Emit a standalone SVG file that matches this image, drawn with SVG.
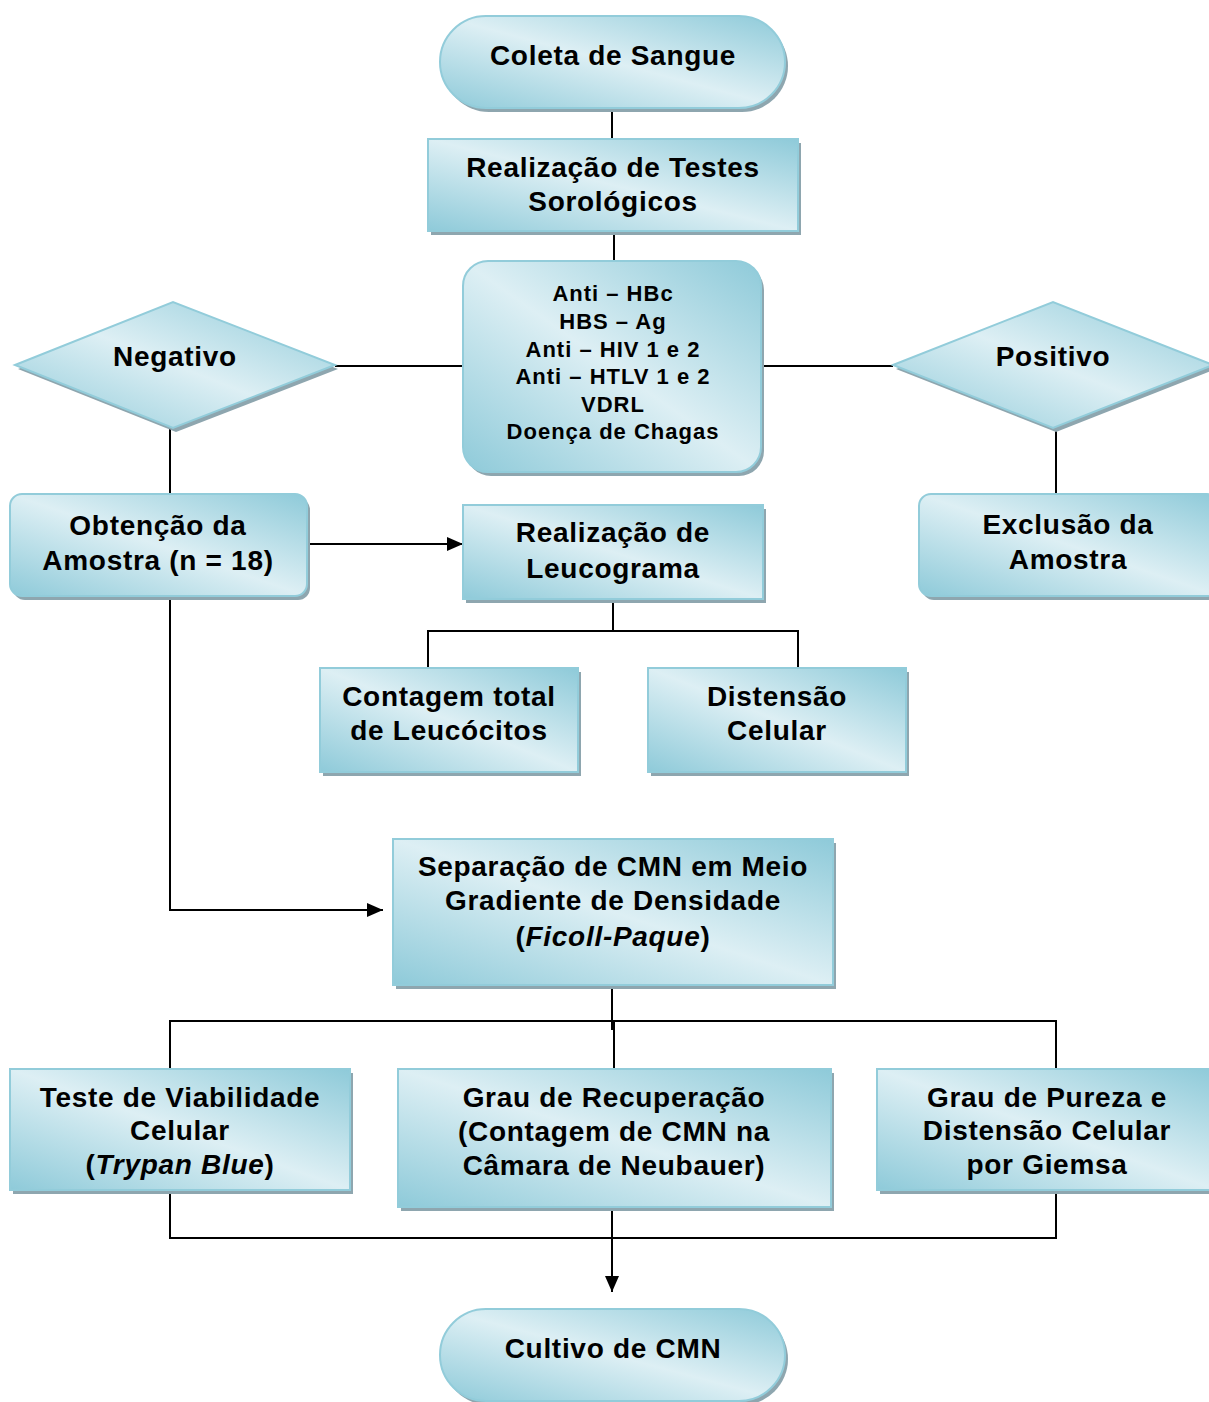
<svg xmlns="http://www.w3.org/2000/svg" width="1209" height="1402" viewBox="0 0 1209 1402">
<defs>
<linearGradient id="g" x1="0" y1="1" x2="1" y2="0">
<stop offset="0" stop-color="#8ECAD9"/>
<stop offset="0.5" stop-color="#DDEFF4"/>
<stop offset="1" stop-color="#8ECAD9"/>
</linearGradient>
<marker id="arr" viewBox="0 0 16 14" refX="16" refY="7" markerWidth="16" markerHeight="14" markerUnits="userSpaceOnUse" orient="auto">
<path d="M0,0 L16,7 L0,14 z" fill="#000"/>
</marker>
</defs>
<style>
.sh{fill:#8EA6AF}
.nd{fill:url(#g);stroke:#92CCDA;stroke-width:2}
.t{font-family:"Liberation Sans",Arial,sans-serif;font-weight:bold;font-size:28px;letter-spacing:0.7px;fill:#000;text-anchor:middle}
.s{font-size:22px;letter-spacing:1px}
.c{fill:none;stroke:#000;stroke-width:2}
</style>
<rect width="1209" height="1402" fill="#fff"/>
<g id="connectors">
<path class="c" d="M612,110 V140"/>
<path class="c" d="M614,232 V262"/>
<path class="c" d="M335,366 H463"/>
<path class="c" d="M762,366 H893"/>
<path class="c" d="M170,428 V494"/>
<path class="c" d="M1056,428 V494"/>
<path class="c" d="M307,544 H463" marker-end="url(#arr)"/>
<path class="c" d="M613,600 V632"/>
<path class="c" d="M428,668 V631 H798 V668"/>
<path class="c" d="M170,598 V910 H383" marker-end="url(#arr)"/>
<path class="c" d="M612,985 V1030"/>
<path class="c" d="M170,1069 V1021 H1056 V1069"/>
<path class="c" d="M614,1021 V1069"/>
<path class="c" d="M170,1190 V1238 H1056 V1190"/>
<path class="c" d="M612,1207 V1292" marker-end="url(#arr)"/>
</g>
<g id="coleta">
<rect class="sh" x="443" y="20" width="345" height="92" rx="46"/>
<rect class="nd" x="440" y="16" width="345" height="92" rx="46"/>
<text class="t" x="613" y="65">Coleta de Sangue</text>
</g>
<g id="testes">
<rect class="sh" x="431" y="143" width="370" height="92"/>
<rect class="nd" x="428" y="139" width="370" height="92"/>
<text class="t" x="613" y="177">Realização de Testes</text>
<text class="t" x="613" y="211">Sorológicos</text>
</g>
<g id="lista">
<rect class="sh" x="466" y="265" width="298" height="211" rx="25"/>
<rect class="nd" x="463" y="261" width="298" height="211" rx="25"/>
<text class="t s" x="613" y="301">Anti – HBc</text>
<text class="t s" x="613" y="329">HBS – Ag</text>
<text class="t s" x="613" y="357">Anti – HIV 1 e 2</text>
<text class="t s" x="613" y="384">Anti – HTLV 1 e 2</text>
<text class="t s" x="613" y="412">VDRL</text>
<text class="t s" x="613" y="439">Doença de Chagas</text>
</g>
<g id="negativo">
<polygon class="sh" points="18,369 176,306 338,369 176,432"/>
<polygon class="nd" points="15,365 173,302 335,365 173,428"/>
<text class="t" x="175" y="366">Negativo</text>
</g>
<g id="positivo">
<polygon class="sh" points="896,369 1056,306 1216,369 1056,432"/>
<polygon class="nd" points="893,365 1053,302 1213,365 1053,428"/>
<text class="t" x="1053" y="366">Positivo</text>
</g>
<g id="obtencao">
<rect class="sh" x="13" y="498" width="297" height="102" rx="12"/>
<rect class="nd" x="10" y="494" width="297" height="102" rx="12"/>
<text class="t" x="158" y="535">Obtenção da</text>
<text class="t" x="158" y="570">Amostra (n = 18)</text>
</g>
<g id="exclusao">
<rect class="sh" x="922" y="498" width="300" height="102" rx="12"/>
<rect class="nd" x="919" y="494" width="300" height="102" rx="12"/>
<text class="t" x="1068" y="534">Exclusão da</text>
<text class="t" x="1068" y="569">Amostra</text>
</g>
<g id="leucograma">
<rect class="sh" x="466" y="509" width="300" height="94"/>
<rect class="nd" x="463" y="505" width="300" height="94"/>
<text class="t" x="613" y="542">Realização de</text>
<text class="t" x="613" y="578">Leucograma</text>
</g>
<g id="contagem">
<rect class="sh" x="323" y="672" width="258" height="104"/>
<rect class="nd" x="320" y="668" width="258" height="104"/>
<text class="t" x="449" y="706">Contagem total</text>
<text class="t" x="449" y="740">de Leucócitos</text>
</g>
<g id="distensao">
<rect class="sh" x="651" y="672" width="258" height="104"/>
<rect class="nd" x="648" y="668" width="258" height="104"/>
<text class="t" x="777" y="706">Distensão</text>
<text class="t" x="777" y="740">Celular</text>
</g>
<g id="separacao">
<rect class="sh" x="396" y="843" width="440" height="146"/>
<rect class="nd" x="393" y="839" width="440" height="146"/>
<text class="t" x="613" y="876">Separação de CMN em Meio</text>
<text class="t" x="613" y="910">Gradiente de Densidade</text>
<text class="t" x="613" y="946">(<tspan font-style="italic">Ficoll-Paque</tspan>)</text>
</g>
<g id="viabilidade">
<rect class="sh" x="13" y="1073" width="340" height="121"/>
<rect class="nd" x="10" y="1069" width="340" height="121"/>
<text class="t" x="180" y="1107">Teste de Viabilidade</text>
<text class="t" x="180" y="1140">Celular</text>
<text class="t" x="180" y="1174">(<tspan font-style="italic">Trypan Blue</tspan>)</text>
</g>
<g id="recuperacao">
<rect class="sh" x="401" y="1073" width="433" height="138"/>
<rect class="nd" x="398" y="1069" width="433" height="138"/>
<text class="t" x="614" y="1107">Grau de Recuperação</text>
<text class="t" x="614" y="1141">(Contagem de CMN na</text>
<text class="t" x="614" y="1175">Câmara de Neubauer)</text>
</g>
<g id="pureza">
<rect class="sh" x="880" y="1073" width="340" height="121"/>
<rect class="nd" x="877" y="1069" width="340" height="121"/>
<text class="t" x="1047" y="1107">Grau de Pureza e</text>
<text class="t" x="1047" y="1140">Distensão Celular</text>
<text class="t" x="1047" y="1174">por Giemsa</text>
</g>
<g id="cultivo">
<rect class="sh" x="443" y="1313" width="345" height="92" rx="46"/>
<rect class="nd" x="440" y="1309" width="345" height="92" rx="46"/>
<text class="t" x="613" y="1358">Cultivo de CMN</text>
</g>
</svg>
